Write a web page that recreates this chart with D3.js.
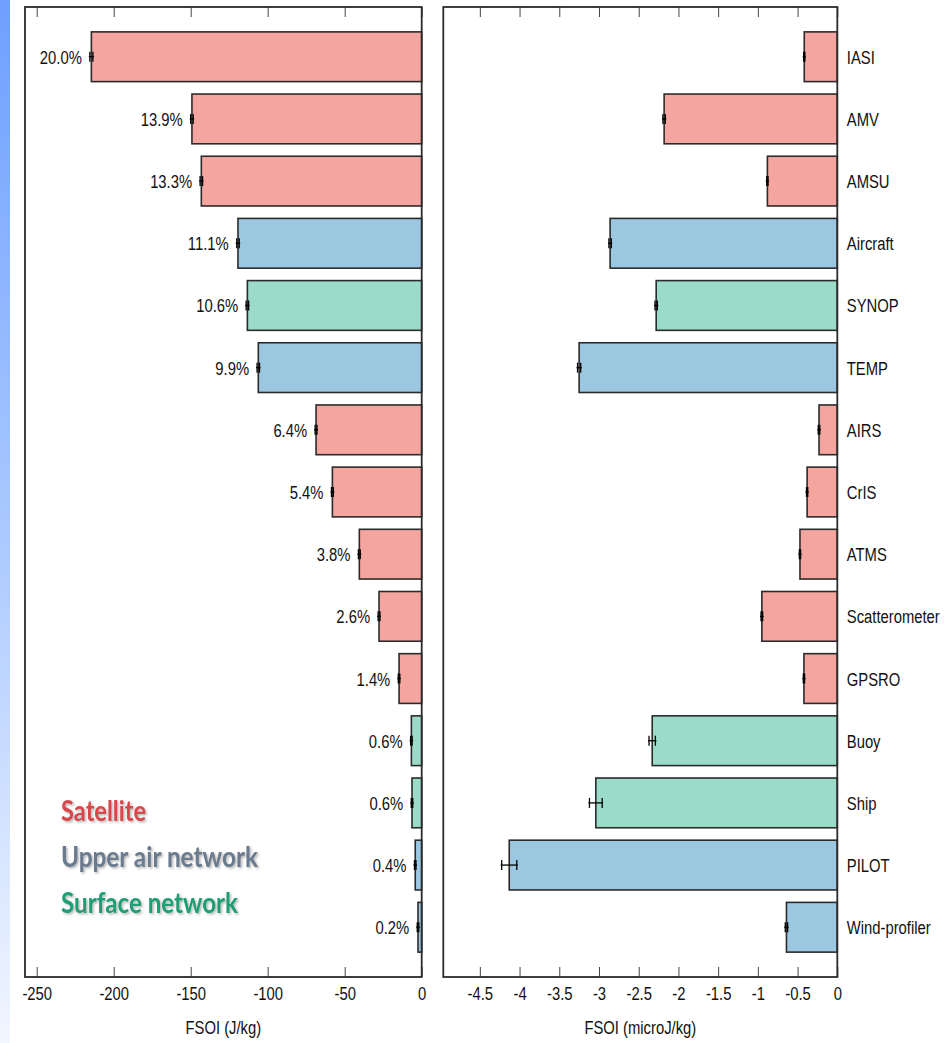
<!DOCTYPE html>
<html>
<head>
<meta charset="utf-8">
<script src="https://cdn.jsdelivr.net/npm/d3@7"></script>
<style>
  html, body { margin: 0; padding: 0; background: #ffffff; }
  svg { display: block; }
  .lbl { font-family: "Liberation Sans", Arial, sans-serif; font-size: 19px; fill: #111; }
</style>
</head>
<body>
<svg id="chart" width="947" height="1043"></svg>
<script>
// ---------------- data ----------------
const categories = ["IASI","AMV","AMSU","Aircraft","SYNOP","TEMP","AIRS","CrIS","ATMS","Scatterometer","GPSRO","Buoy","Ship","PILOT","Wind-profiler"];
const groups = ["Satellite","Satellite","Satellite","Upper","Surface","Upper","Satellite","Satellite","Satellite","Satellite","Satellite","Surface","Surface","Upper","Upper"];
const totalFSOI = [-214.5,-149.2,-143.1,-119.3,-113.2,-106.1,-68.6,-58.0,-40.5,-27.7,-14.7,-6.7,-6.3,-4.2,-2.4];
const totalErr = [1.0,0.8,0.8,0.8,0.8,0.8,0.6,0.6,0.6,0.6,0.5,0.5,0.5,0.5,0.5];
const percentLabels = ["20.0%","13.9%","13.3%","11.1%","10.6%","9.9%","6.4%","5.4%","3.8%","2.6%","1.4%","0.6%","0.6%","0.4%","0.2%"];
const perObsFSOI = [-0.416,-2.18,-0.88,-2.86,-2.28,-3.25,-0.23,-0.38,-0.47,-0.95,-0.42,-2.33,-3.04,-4.13,-0.64];
const perObsErr = [0.008,0.015,0.008,0.015,0.015,0.02,0.01,0.008,0.008,0.01,0.008,0.04,0.08,0.095,0.015];
const leftTicks = [-250,-200,-150,-100,-50,0];
const rightTicks = [-4.5,-4,-3.5,-3,-2.5,-2,-1.5,-1,-0.5,0];
const legendItems = ["Satellite","Upper air network","Surface network"];
const legendKeys = ["Satellite","Upper","Surface"];

// ---------------- styles ----------------
const fillColor = {Satellite:"#f4a5a0", Upper:"#9bc7e1", Surface:"#9bdbc9"};
const legendColor = {Satellite:"#d9474b", Upper:"#6b7a8f", Surface:"#1b9e77"};
const SX = 0.78; // horizontal condensing of the narrow label font

const svg = d3.select("#chart");
const defs = svg.append("defs");
const grad = defs.append("linearGradient").attr("id","strip").attr("x1",0).attr("y1",0).attr("x2",0).attr("y2",1);
grad.append("stop").attr("offset","0%").attr("stop-color","#6e9fff");
grad.append("stop").attr("offset","50%").attr("stop-color","#a9c8ff");
grad.append("stop").attr("offset","100%").attr("stop-color","#f2f6ff");
const shadow = defs.append("filter").attr("id","shadow").attr("x","-10%").attr("y","-20%").attr("width","130%").attr("height","150%");
shadow.append("feDropShadow").attr("dx",1.5).attr("dy",1.5).attr("stdDeviation",1.2).attr("flood-color","#777").attr("flood-opacity",0.55);

svg.append("rect").attr("x",0).attr("y",0).attr("width",10).attr("height",1043).attr("fill","url(#strip)");

const plotTop = 7, plotBottom = 977;
const y = d3.scaleBand().domain(categories).range([plotTop,plotBottom]).paddingInner(0.2).paddingOuter(0.4);

const xL = d3.scaleLinear().domain([-257.6,0]).range([25,421.7]);
const xR = d3.scaleLinear().domain([-4.96,0]).range([443.3,837.3]);

function condense(sel) {
  sel.each(function() {
    const t = d3.select(this);
    const x = +t.attr("x") || 0;
    const prev = t.attr("transform") || "";
    t.attr("transform", `${prev} translate(${x},0) scale(${SX},1) translate(${-x},0)`);
  });
}

function panel(x, values, errs, ticks) {
  const g = svg.append("g");
  g.selectAll("rect.bar").data(categories).enter().append("rect")
    .attr("class","bar")
    .attr("x",(d,i)=>x(values[i]))
    .attr("y",d=>y(d))
    .attr("width",(d,i)=>x(0)-x(values[i]))
    .attr("height",y.bandwidth())
    .attr("fill",(d,i)=>fillColor[groups[i]])
    .attr("stroke","#2b2b2b").attr("stroke-width",1.6);
  const eb = g.selectAll("g.err").data(categories).enter().append("g").attr("class","err");
  const cy = d => y(d)+y.bandwidth()/2;
  eb.append("line")
    .attr("x1",(d,i)=>x(values[i]-errs[i])-1).attr("x2",(d,i)=>x(values[i]+errs[i])+1)
    .attr("y1",cy).attr("y2",cy).attr("stroke","#000").attr("stroke-width",1.3);
  eb.append("line")
    .attr("x1",(d,i)=>x(values[i]-errs[i])).attr("x2",(d,i)=>x(values[i]-errs[i]))
    .attr("y1",d=>cy(d)-5).attr("y2",d=>cy(d)+5).attr("stroke","#000").attr("stroke-width",1.3);
  eb.append("line")
    .attr("x1",(d,i)=>x(values[i]+errs[i])).attr("x2",(d,i)=>x(values[i]+errs[i]))
    .attr("y1",d=>cy(d)-5).attr("y2",d=>cy(d)+5).attr("stroke","#000").attr("stroke-width",1.3);
  const axB = d3.axisBottom(x).tickValues(ticks).tickSizeInner(-10).tickSizeOuter(0).tickPadding(10).tickFormat(d=>String(d));
  const gb = svg.append("g").attr("transform",`translate(0,${plotBottom})`).call(axB);
  gb.attr("font-size",null).attr("font-family",null);
  gb.select(".domain").remove();
  gb.selectAll(".tick line").attr("stroke","#444").attr("stroke-width",1);
  gb.selectAll(".tick text").attr("class","lbl").attr("fill",null).attr("transform",`scale(${SX},1)`);
  const axT = d3.axisTop(x).tickValues(ticks).tickSizeInner(-10).tickSizeOuter(0).tickFormat("");
  const gt = svg.append("g").attr("transform",`translate(0,${plotTop})`).call(axT);
  gt.select(".domain").remove();
  gt.selectAll(".tick line").attr("stroke","#444").attr("stroke-width",1);
  const [x0,x1] = x.range();
  svg.append("rect").attr("x",x0).attr("y",plotTop).attr("width",x1-x0).attr("height",plotBottom-plotTop)
    .attr("fill","none").attr("stroke","#2b2b2b").attr("stroke-width",1.8);
  return g;
}

const gL = panel(xL, totalFSOI, totalErr, leftTicks);
const gR = panel(xR, perObsFSOI, perObsErr, rightTicks);

gL.selectAll("text.pct").data(categories).enter().append("text")
  .attr("class","lbl")
  .attr("x",(d,i)=>xL(totalFSOI[i]-totalErr[i])-8)
  .attr("y",d=>y(d)+y.bandwidth()/2)
  .attr("dy","0.37em")
  .attr("text-anchor","end")
  .text((d,i)=>percentLabels[i])
  .call(condense);

gR.selectAll("text.cat").data(categories).enter().append("text")
  .attr("class","lbl")
  .attr("x",xR(0)+9.5)
  .attr("y",d=>y(d)+y.bandwidth()/2)
  .attr("dy","0.37em")
  .text(d=>d)
  .call(condense);

svg.append("text").attr("class","lbl").attr("x",(xL.range()[0]+xL.range()[1])/2).attr("y",1034)
  .attr("text-anchor","middle").text("FSOI (J/kg)").call(condense);
svg.append("text").attr("class","lbl").attr("x",(xR.range()[0]+xR.range()[1])/2).attr("y",1034)
  .attr("text-anchor","middle").text("FSOI (microJ/kg)").call(condense);

const legendY = [821, 867, 913];
const legendW = [85, 197, 177];
svg.append("g").selectAll("text").data(legendItems).enter().append("text")
  .attr("x",61).attr("y",(d,i)=>legendY[i])
  .attr("font-family","Lato, 'Open Sans', sans-serif")
  .attr("font-weight",700)
  .attr("font-size",29)
  .attr("textLength",(d,i)=>legendW[i])
  .attr("lengthAdjust","spacingAndGlyphs")
  .attr("fill",(d,i)=>legendColor[legendKeys[i]])
  .attr("filter","url(#shadow)")
  .text(d=>d);
</script>
</body>
</html>
